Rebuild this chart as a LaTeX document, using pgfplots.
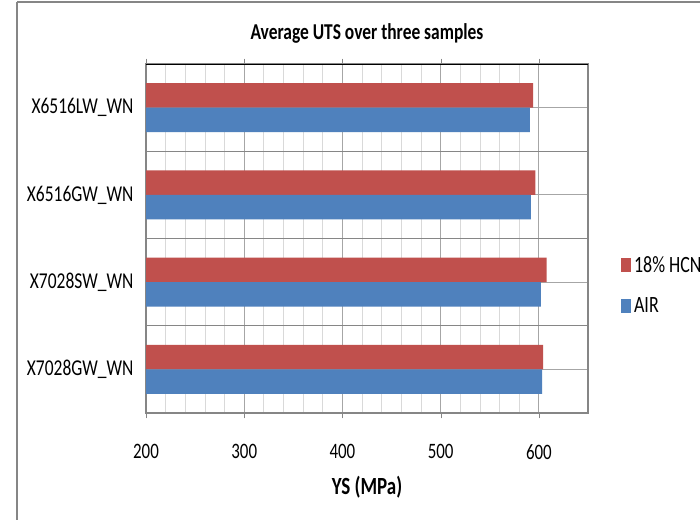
\documentclass[border=0pt]{standalone}
\usepackage{fontspec}
\setmainfont{Carlito}[FakeStretch=0.77]
\usepackage{pgfplots}
\pgfplotsset{compat=1.18}
\definecolor{xred}{HTML}{C0504D}
\definecolor{xblue}{HTML}{4F81BD}
\definecolor{axgray}{HTML}{868686}
\definecolor{majgray}{HTML}{A6A6A6}
\definecolor{mingray}{HTML}{D9D9D9}
\begin{document}
\begin{tikzpicture}
\useasboundingbox (0,0) rectangle (525pt,-389.25pt);
\fill[white] (0,0) rectangle (525pt,-389.25pt);
\draw[axgray, line width=0.8pt] (12.75pt,-1.5pt) -- (530pt,-1.5pt);
\draw[axgray, line width=0.8pt] (12.75pt,-1.5pt) -- (12.75pt,-392pt);
\begin{axis}[
  at={(109.5pt,-309.75pt)}, anchor=south west,
  scale only axis, width=331.5pt, height=261.75pt,
  xbar, bar width=18.4pt,
  xmin=200, xmax=650, ymin=-0.5, ymax=3.5,
  xtick={200,300,...,600}, minor x tick num=4,
  ytick={0,1,2,3},
  yticklabels={X7028GW\_WN,X7028SW\_WN,X6516GW\_WN,X6516LW\_WN},
  extra y ticks={-0.5,0.5,1.5,2.5,3.5},
  extra y tick labels={},
  extra y tick style={tick style={draw=axgray}, major grid style={axgray, line width=0.6pt}},
  ytick style={draw=none},
  tick align=outside, major tick length=4pt,
  minor x tick style={draw=none},
  xtick style={draw=axgray},
  xmajorgrids, xminorgrids, ymajorgrids,
  major grid style={majgray, line width=0.6pt},
  minor grid style={mingray, line width=0.6pt},
  axis line style={draw=axgray, line width=0.8pt},
  /pgf/number format/assume math mode=true,
  xticklabel style={font=\fontsize{16.5}{18}\selectfont, yshift=-16pt},
  yticklabel style={font=\fontsize{17}{19}\selectfont, xshift=-2pt},
  title={\textbf{Average UTS over three samples}},
  title style={font=\fontsize{17}{18}\selectfont, at={(axis description cs:0.5,1)}, anchor=center, yshift=17pt},
  xlabel={\textbf{YS (MPa)}},
  xlabel style={font=\fontsize{18.5}{20}\selectfont, at={(axis description cs:0.5,0)}, anchor=center, yshift=-56pt},
  legend style={at={(axis description cs:1.075,0.366)}, anchor=west, draw=none, fill=none,
    inner sep=0pt, row sep=13pt, font=\fontsize{17.5}{19}\selectfont,
    nodes={inner sep=2pt}},
  legend cell align=left,
  legend image code/.code={\path[#1] (0pt,-5.25pt) rectangle (7.5pt,5.25pt);},
]
\addplot[fill=xred, draw=none, bar shift=9.2pt] coordinates {(604.4,0) (607.8,1) (596.3,2) (594.2,3)};
\addplot[fill=xblue, draw=none, bar shift=-9.2pt] coordinates {(603.4,0) (602.0,1) (591.9,2) (590.8,3)};
\legend{18\% HCN, AIR}
\draw[black, line width=0.8pt] (rel axis cs:0,1) -- (rel axis cs:1,1);
\end{axis}
\end{tikzpicture}
\end{document}
